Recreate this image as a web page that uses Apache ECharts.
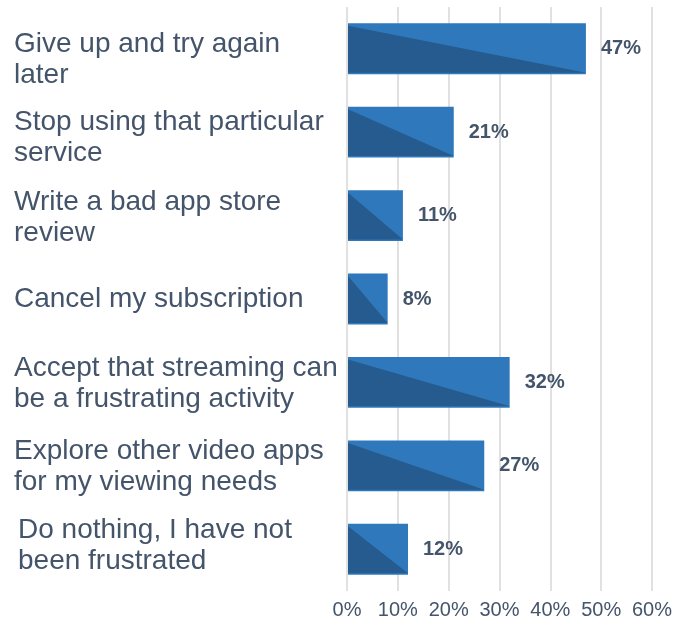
<!DOCTYPE html>
<html>
<head>
<meta charset="utf-8">
<script src="https://cdn.jsdelivr.net/npm/echarts@6/dist/echarts.min.js"></script>
<style>
  html, body { margin: 0; padding: 0; background: #ffffff; }
  #chart { width: 695px; height: 618px; }
</style>
</head>
<body>
<div id="chart"></div>
<script>
// Survey responses: what people do when streaming frustrates them
var categories = [
  'Give up and try again\nlater',
  'Stop using that particular\nservice',
  'Write a bad app store\nreview',
  'Cancel my subscription',
  'Accept that streaming can\nbe a frustrating activity',
  'Explore other video apps\nfor my viewing needs',
  'Do nothing, I have not\nbeen frustrated'
];
var shares = [47, 21, 11, 8, 32, 27, 12];
var tickMin = 0;
var tickMax = 60;
var tickStep = 10;

var LIGHT = '#2F78BC';
var DARK = '#255B8E';
var TEXT = '#44546A';
var FONT = '"Liberation Sans", Arial, Helvetica, sans-serif';

// small vertical / horizontal nudges for the category captions
var captionNudge = [11, 6, 2, 0, 1, 1, -4];
var captionIndent = [0, 0, 0, 0, 0, 0, 4];

// spacer lines push a caption up or down within its band
var captionRich = { ind: { padding: [0, 0, 0, 4] } };
captionNudge.forEach(function (d, i) {
  if (d !== 0) {
    captionRich['sp' + i] = { fontSize: 1, lineHeight: Math.abs(2 * d) };
  }
});

var chart = echarts.init(document.getElementById('chart'), null, { renderer: 'canvas' });

chart.setOption({
  animation: false,
  backgroundColor: '#ffffff',
  textStyle: { fontFamily: FONT },
  grid: { left: 347, right: 43, top: 7, bottom: 27, outerBoundsMode: 'none' },
  xAxis: {
    type: 'value',
    min: tickMin,
    max: tickMax,
    interval: tickStep,
    axisLine: { show: false },
    axisTick: { show: false },
    axisLabel: {
      formatter: '{value}%',
      color: TEXT,
      fontSize: 20,
      fontFamily: FONT,
      margin: 9
    },
    splitLine: { show: true, lineStyle: { color: '#E1E1E1', width: 2 } }
  },
  yAxis: {
    type: 'category',
    inverse: true,
    data: categories,
    axisLine: { show: false },
    axisTick: { show: false },
    splitLine: { show: false },
    axisLabel: {
      align: 'left',
      margin: 333,
      color: TEXT,
      fontSize: 28,
      lineHeight: 31,
      fontFamily: FONT,
      rich: captionRich,
      formatter: function (value, index) {
        var d = captionNudge[index];
        var lines = value.split('\n').map(function (l) {
          return captionIndent[index] ? '{ind|' + l + '}' : l;
        });
        if (d > 0) lines.unshift('{sp' + index + '| }');
        if (d < 0) lines.push('{sp' + index + '| }');
        return lines.join('\n');
      }
    }
  },
  series: [{
    type: 'custom',
    encode: { x: 0, y: 1 },
    data: shares.map(function (v, i) { return [v, i]; }),
    renderItem: function (params, api) {
      var v = api.value(0);
      var idx = api.value(1);
      var start = api.coord([0, idx]);
      var end = api.coord([v, idx]);
      var h = api.size([0, 1])[1] * 0.61;
      var x0 = start[0] + 1;
      var x1 = end[0];
      var yTop = start[1] - h / 2;
      var yBot = start[1] + h / 2;
      return {
        type: 'group',
        children: [
          {
            type: 'rect',
            shape: { x: x0, y: yTop, width: x1 - x0, height: h },
            style: { fill: LIGHT },
            textContent: {
              style: {
                text: v + '%',
                fill: TEXT,
                fontSize: 20,
                fontWeight: 'bold',
                fontFamily: FONT
              }
            },
            textConfig: { position: 'right', distance: 15 }
          },
          {
            type: 'polygon',
            shape: {
              points: [[x0, yTop + 2.5], [x0, yBot - 1.5], [x1, yBot - 1.5]]
            },
            style: { fill: DARK }
          }
        ]
      };
    }
  }]
});
</script>
</body>
</html>
